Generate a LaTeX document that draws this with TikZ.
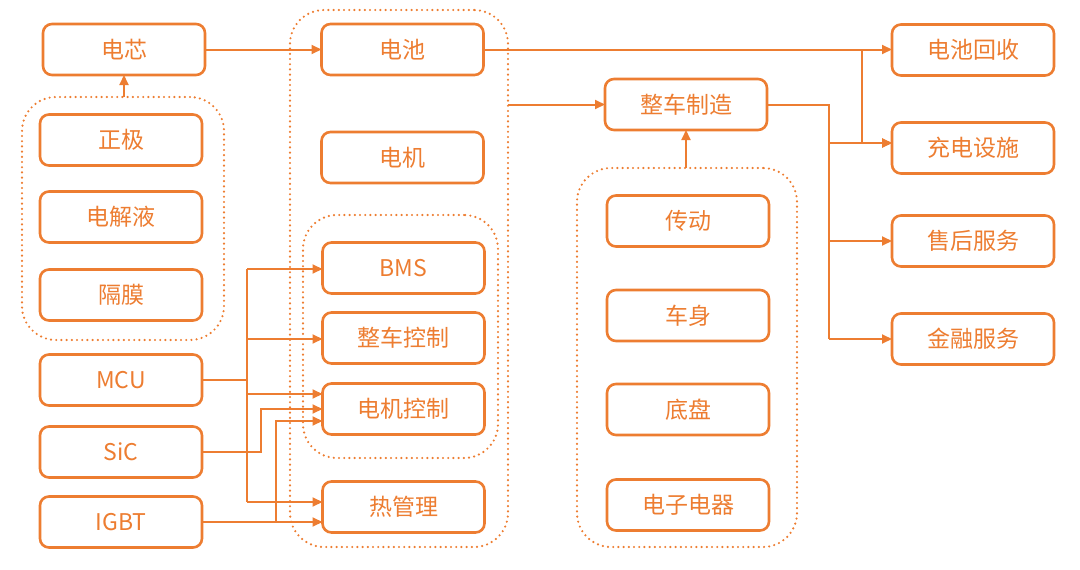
\documentclass[tikz,border=0pt]{standalone}
\usepackage{fontspec}
\newfontfamily\cjk{Noto Sans CJK SC}
\usetikzlibrary{arrows.meta}
\definecolor{oc}{HTML}{ED7D31}
\tikzset{
  box/.style={draw=oc, line width=2.6pt, rounded corners=9pt, minimum width=162pt, minimum height=51pt, text=oc, fill=white, font=\cjk\fontsize{23}{23}\selectfont, inner sep=0pt, outer sep=0pt},
  grp/.style={draw=oc, line width=2.4pt, dash pattern=on 0pt off 5.2pt, line cap=round, rounded corners=34pt, inner sep=0pt, outer sep=0pt},
  ln/.style={draw=oc, line width=2pt},
  conn/.style={ln, -{Triangle[length=10pt,width=9pt]}}
}
\begin{document}
\begin{tikzpicture}[x=1pt,y=-1pt]
\useasboundingbox (0,0) rectangle (1080,570);
% groups
\node[grp, minimum width=202pt, minimum height=243pt] (g1) at (123,218.5) {};
\node[grp, minimum width=218pt, minimum height=537pt] (gout) at (399,278.5) {};
\node[grp, minimum width=195pt, minimum height=243pt] (gin) at (400.5,336.5) {};
\node[grp, minimum width=220pt, minimum height=379pt] (g3) at (687,357.5) {};
% left column
\node[box] (dx) at (124,49.5) {电芯};
\node[box] (zj) at (121,140) {正极};
\node[box] (dj) at (121,217) {电解液};
\node[box] (gm) at (121,295) {隔膜};
\node[box] (mcu) at (121,380) {MCU};
\node[box] (sic) at (121,452) {SiC};
\node[box] (igbt) at (121,522) {IGBT};
% second column
\node[box] (bat) at (402.5,49.5) {电池};
\node[box] (mot) at (402.5,157.5) {电机};
\node[box] (bms) at (403.5,268) {BMS};
\node[box] (vc) at (403.5,338) {整车控制};
\node[box] (mc) at (403.5,409) {电机控制};
\node[box] (th) at (403.5,507) {热管理};
% third column
\node[box] (mfg) at (686,104.5) {整车制造};
\node[box] (cd) at (688,221) {传动};
\node[box] (cs) at (688,315.5) {车身};
\node[box] (dp) at (688,409.5) {底盘};
\node[box] (dz) at (688,505) {电子电器};
% right column
\node[box] (rec) at (973,50) {电池回收};
\node[box] (chg) at (973,148) {充电设施};
\node[box] (srv) at (973,241) {售后服务};
\node[box] (fin) at (973,339) {金融服务};
% connectors top
\draw[conn] (dx.east) -- (bat.west |- dx.east);
\draw[conn] (g1.north -| dx.south) -- (dx.south);
\draw[conn] (bat.east) -- (rec.west |- bat.east);
\coordinate (j1) at (862,49.5);
\draw[conn] (j1) |- ([yshift=5pt]chg.west);
\draw[conn] (gout.east |- mfg.west) -- (mfg.west);
\draw[conn] (g3.north -| mfg.south) -- (mfg.south);
\coordinate (j2) at (829,339);
\draw[ln] (mfg.east) -| (j2);
\draw[conn] (j2) -- (fin.west);
\draw[conn] (j2 |- srv.west) -- (srv.west);
\draw[conn] (j2 |- 0,143) -- ([yshift=5pt]chg.west);
% left bus
\coordinate (b1) at (247,269);
\coordinate (b2) at (247,502);
\draw[ln] (mcu.east) -- (247,380);
\draw[ln] (b1) -- (b2);
\draw[conn] (b1) -- (bms.west |- b1);
\draw[conn] (247,339) -- (vc.west |- 0,339);
\draw[conn] (247,394) -- ([yshift=15pt]mc.west);
\draw[conn] (b2) -- ([yshift=5pt]th.west);
\draw[conn] (sic.east) -| (261,409) -- (mc.west);
\draw[conn] (igbt.east) -- ([yshift=-15pt]th.west);
\draw[conn] (276,522) |- ([yshift=-12pt]mc.west);
\end{tikzpicture}
\end{document}
